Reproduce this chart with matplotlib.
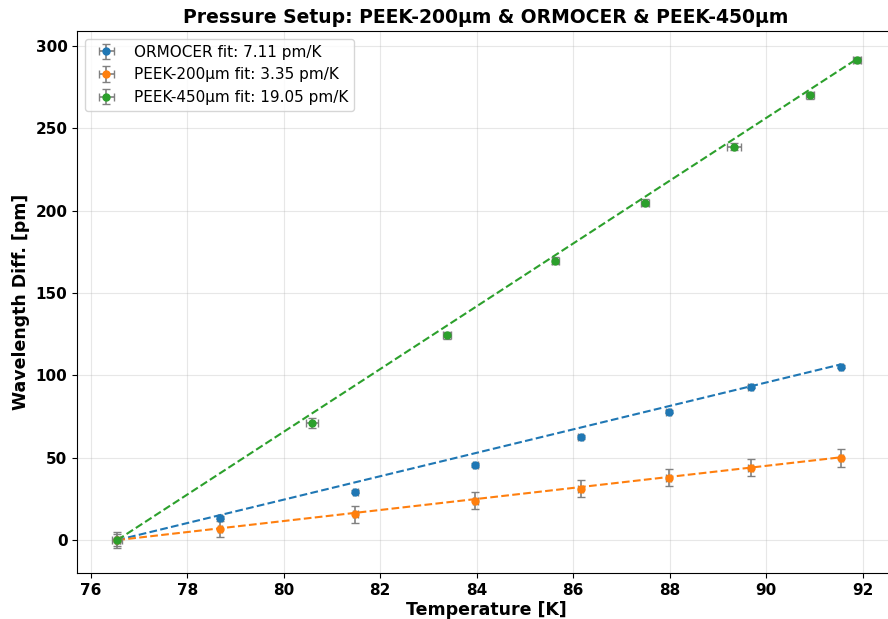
import matplotlib.pyplot as plt
import numpy as np

# ORMOCER
temp_orm = [76.55, 78.68, 81.48, 83.97, 86.15, 87.98, 89.68, 91.55]
diff_orm = [0.0, 13.5, 29.3, 45.5, 62.5, 78.0, 93.0, 105.2]
yerr_orm = [1.0, 1.0, 1.0, 1.0, 1.0, 1.0, 1.0, 1.0]
xerr_orm = [0.05, 0.05, 0.05, 0.05, 0.05, 0.05, 0.05, 0.05]
slope_orm = 7.11

# PEEK-200um
temp_p200 = [76.55, 78.68, 81.48, 83.97, 86.15, 87.98, 89.68, 91.55]
diff_p200 = [0.0, 6.7, 15.6, 23.9, 31.1, 37.8, 43.9, 50.0]
yerr_p200 = [4.8, 5.0, 5.2, 5.0, 5.2, 5.2, 5.3, 5.4]
xerr_p200 = [0.05, 0.05, 0.05, 0.05, 0.05, 0.05, 0.05, 0.05]
slope_p200 = 3.35

# PEEK-450um
temp_p450 = [76.55, 80.59, 83.39, 85.63, 87.48, 89.33, 90.91, 91.88]
diff_p450 = [0.0, 70.9, 124.3, 169.6, 204.8, 238.8, 270.0, 291.3]
yerr_p450 = [3.5, 3.0, 2.0, 2.0, 2.0, 2.0, 2.0, 2.0]
xerr_p450 = [0.1, 0.12, 0.08, 0.08, 0.08, 0.15, 0.08, 0.08]
slope_p450 = 19.05

series = [
    ('ORMOCER', temp_orm, diff_orm, yerr_orm, xerr_orm, slope_orm, '#1f77b4'),
    ('PEEK-200μm', temp_p200, diff_p200, yerr_p200, xerr_p200, slope_p200, '#ff7f0e'),
    ('PEEK-450μm', temp_p450, diff_p450, yerr_p450, xerr_p450, slope_p450, '#2ca02c'),
]

fig = plt.figure(figsize=(8.88, 6.19), dpi=100)
ax = fig.add_axes([0.087, 0.0743, 0.921, 0.8757])

for name, t, d, ye, xe, m, c in series:
    ax.errorbar(t, d, yerr=ye, xerr=xe, fmt='o', color=c, ecolor='gray',
                capsize=3, markersize=5, elinewidth=1.2,
                label='{} fit: {:.2f} pm/K'.format(name, m))
    # fitted line through the first point
    t_fit = np.array([t[0], t[-1]])
    ax.plot(t_fit, m * (t_fit - t[0]), '--', color=c, linewidth=1.5)

ax.set_xlim(75.72, 92.67)
ax.set_ylim(-20, 309)
ax.set_xticks(np.arange(76, 93, 2))
ax.grid(True, alpha=0.3)

ax.set_title('Pressure Setup: PEEK-200μm & ORMOCER & PEEK-450μm',
             fontsize=13.5, fontweight='bold')
ax.set_xlabel('Temperature [K]', fontsize=12.5, fontweight='bold', labelpad=2)
ax.set_ylabel('Wavelength Diff. [pm]', fontsize=12.5, fontweight='bold')
for lab in ax.get_xticklabels() + ax.get_yticklabels():
    lab.set_fontweight('bold')
    lab.set_fontsize(11)

ax.legend(loc='upper left', fontsize=11)

plt.savefig('out.png', dpi=100)
